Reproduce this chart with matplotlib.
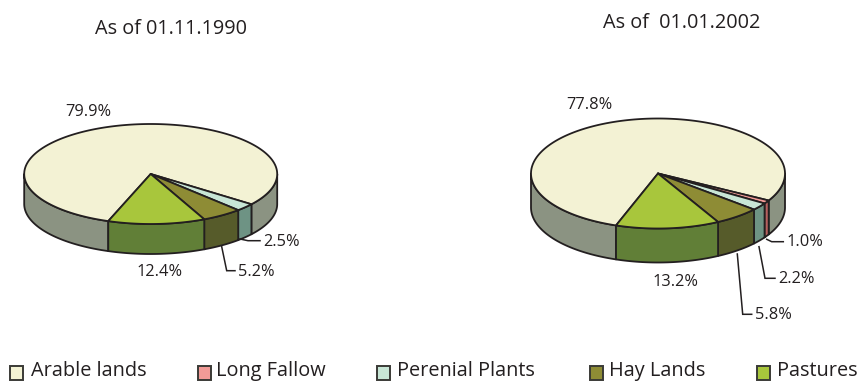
import numpy as np
import matplotlib
matplotlib.use("Agg")
import matplotlib.pyplot as plt
from matplotlib.patches import Rectangle

plt.rcParams['font.family'] = ['Open Sans', 'DejaVu Sans']

# Land use shares in percent, listed in order of increasing screen angle
categories = ["Arable lands", "Long Fallow", "Perenial Plants", "Hay Lands", "Pastures"]
shares_1990 = [79.9, 0.0, 2.5, 5.2, 12.4]
shares_2002 = [77.8, 1.0, 2.2, 5.8, 13.2]
title_1990 = "As of 01.11.1990"
title_2002 = "As of  01.01.2002"

top_colors = ["#F3F2D4", "#F29B97", "#C8E6D6", "#8E8C35", "#A8C63C"]
side_colors = ["#8B9382", "#B5605F", "#6E9384", "#565B2A", "#617F37"]
INK = "#231F20"

fig = plt.figure(figsize=(8.59, 3.81), dpi=100)
ax = fig.add_axes([0, 0, 1, 1])
ax.set_xlim(0, 859)
ax.set_ylim(381, 0)
ax.axis("off")


def pie3d(shares, cx, cy, rx, ry, depth, start_angle):
    """Tilted pie: the first slice begins at start_angle, screen angles grow clockwise."""
    ang = start_angle
    spans = []
    for v in shares:
        spans.append((ang, ang + v * 3.6))
        ang += v * 3.6
    # rim walls: only the part facing the viewer (0..180 deg on screen)
    for (a0, a1), col, v in zip(spans, side_colors, shares):
        if v == 0:
            continue
        for k in (-360, 0, 360):
            lo, hi = max(a0 + k, 0), min(a1 + k, 180)
            if hi <= lo:
                continue
            t = np.radians(np.linspace(lo, hi, 60))
            x = cx + rx * np.cos(t)
            y = cy + ry * np.sin(t)
            ax.fill(np.r_[x, x[::-1]], np.r_[y, y[::-1] + depth],
                    fc=col, ec=INK, lw=1.3, joinstyle="round", zorder=2)
    # top faces
    for (a0, a1), col, v in zip(spans, top_colors, shares):
        if v == 0:
            continue
        t = np.radians(np.linspace(a0, a1, 240))
        x = np.r_[cx, cx + rx * np.cos(t)]
        y = np.r_[cy, cy + ry * np.sin(t)]
        ax.fill(x, y, fc=col, ec=INK, lw=1.3, joinstyle="round", zorder=3)


pie3d(shares_1990, 150.7, 174, 126.5, 50, 30, 109.6)
pie3d(shares_2002, 658, 173.5, 127, 55, 34, 109.3)

# Leader lines for the narrow slices
leaders = [
    ([240, 248, 260], [239, 240.7, 240.7]),
    ([221.7, 226.7, 235], [246.7, 270.7, 270.7]),
    ([766.7, 771.7, 783.3], [239.3, 241.7, 241.7]),
    ([759, 765, 775], [246.7, 278.3, 278.3]),
    ([737.3, 742.7, 751.7], [254, 314.3, 314.3]),
]
for lx, ly in leaders:
    ax.plot(lx, ly, color=INK, lw=1.1, zorder=4, solid_joinstyle="miter")

labels = [
    (65, 112, shares_1990[0]), (136, 272, shares_1990[4]),
    (238, 272, shares_1990[3]), (263, 241.5, shares_1990[2]),
    (566, 105, shares_2002[0]), (652, 282, shares_2002[4]),
    (786, 242, shares_2002[1]), (778, 279, shares_2002[2]),
    (755, 315, shares_2002[3]),
]
for x, y, v in labels:
    ax.text(x, y, f"{v:.1f}%", fontsize=11.8, color=INK, ha="left", va="center")

ax.text(95, 28.5, title_1990, fontsize=14.3, color=INK, ha="left", va="center")
ax.text(603, 23.5, title_2002, fontsize=14.3, color=INK, ha="left", va="center")

# Legend row along the bottom edge
swatch_x = [10, 198, 377, 590, 757]
text_x = [31, 216, 397, 609, 777]
for sx, tx, name, col in zip(swatch_x, text_x, categories, top_colors):
    ax.add_patch(Rectangle((sx, 366), 13, 14, fc=col, ec="#3A3A36", lw=1.4, zorder=3))
    ax.text(tx, 376, name, fontsize=14.3, color=INK, ha="left", va="baseline")

fig.savefig("out.png", dpi=100)
